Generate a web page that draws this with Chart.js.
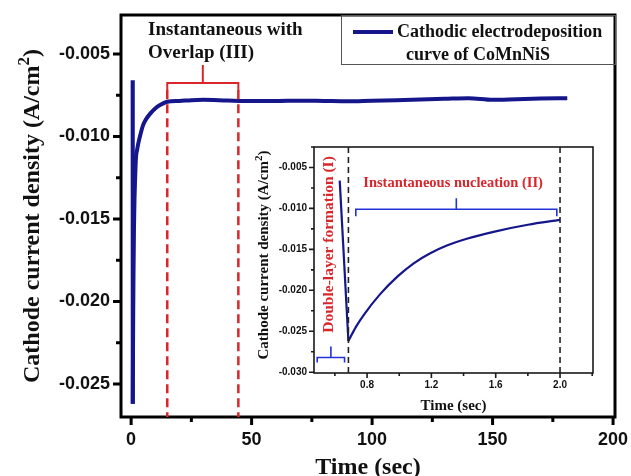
<!DOCTYPE html>
<html lang="en">
<head>
<meta charset="UTF-8" />
<title>Cathodic electrodeposition of CoMnNiS</title>
<script src="https://cdn.jsdelivr.net/npm/chart.js"></script>
<style>
  html, body { margin: 0; padding: 0; background: #fff; }
  .wrap { position: relative; width: 631px; height: 476px; overflow: hidden; }
  #mainChart { position: absolute; left: 0; top: 0; }
  #insetChart { position: absolute; left: 250px; top: 140px; }
</style>
</head>
<body>
<div class="wrap">
  <canvas id="mainChart" width="631" height="476"></canvas>
  <canvas id="insetChart" width="350" height="280"></canvas>
</div>
<script>
// whole deposition run: time (s) and current density (A/cm2)
const runTime = [0.63, 0.684, 0.78, 0.88, 0.99, 1.19, 1.42, 1.6, 2.0, 2.5, 3, 4, 5, 6, 8, 10, 12, 15, 20, 25, 30,
  40, 50, 60, 70, 80, 90, 100, 110, 120, 130, 140, 150, 160, 170, 181];
const runCurrent = [-0.0066, -0.0262, -0.0230, -0.0205, -0.0183, -0.0155, -0.0137, -0.0128, -0.0113, -0.0108,
  -0.0104, -0.0098, -0.0093, -0.0090, -0.0086, -0.0083, -0.0081, -0.0079, -0.00785, -0.0078, -0.00778,
  -0.00782, -0.00785, -0.00785, -0.00783, -0.00785, -0.00787, -0.00783, -0.0078, -0.00776,
  -0.00772, -0.00768, -0.00778, -0.00774, -0.0077, -0.00768];

// first two seconds (inset)
const earlyTime = [0.63, 0.684, 0.73, 0.78, 0.88, 0.99, 1.09, 1.19, 1.3, 1.42, 1.6, 1.8, 2.0];
const earlyCurrent = [-0.0066, -0.0262, -0.0245, -0.0230, -0.0205, -0.0183, -0.0167, -0.0155, -0.0145,
  -0.0137, -0.0128, -0.0120, -0.0114];

const runTicksX = [0, 50, 100, 150, 200];
const runTicksY = [-0.025, -0.020, -0.015, -0.010, -0.005];
const earlyTicksX = [0.8, 1.2, 1.6, 2.0];
const earlyTicksY = [-0.030, -0.025, -0.020, -0.015, -0.010, -0.005];

// stage limits
const overlapStage = [15, 44.5];
const doubleLayerStage = [0.49, 0.66];
const nucleationStage = [0.73, 1.98];
const stageMarks = [0.684, 2.0];

const navy = '#16168c';
const red = '#d9262b';
const blue = '#2233d8';
const serif = '"Liberation Serif", "Times New Roman", serif';
const sans = '"Liberation Sans", Arial, sans-serif';

function minorTicks(major, min, max) {
  const step = major[1] - major[0];
  const out = [];
  for (let v = major[0] - step / 2; v <= max + 1e-9; v += step) {
    if (v >= min - 1e-9) out.push(v);
  }
  return out;
}

// {x, y} points for a slice of a series
function points(times, values, from, to) {
  return times.slice(from, to).map((t, i) => ({ x: t, y: values[from + i] }));
}

// text made of runs, some of them superscript; centred on (x, y)
function drawRuns(ctx, runs, x, y, size, rotate, color) {
  ctx.save();
  ctx.translate(x, y);
  if (rotate) ctx.rotate(-Math.PI / 2);
  const base = `bold ${size}px ${serif}`;
  const sup = `bold ${Math.round(size * 0.72)}px ${serif}`;
  let total = 0;
  runs.forEach(([t, s]) => { ctx.font = s ? sup : base; total += ctx.measureText(t).width; });
  let cx = -total / 2;
  ctx.fillStyle = color || '#111';
  ctx.textBaseline = 'alphabetic';
  ctx.textAlign = 'left';
  runs.forEach(([t, s]) => {
    ctx.font = s ? sup : base;
    ctx.fillText(t, cx, size * 0.34 - (s ? size * 0.42 : 0));
    cx += ctx.measureText(t).width;
  });
  ctx.restore();
}

function bracket(ctx, x, y, x0, x1, yv, end, stem) {
  const p0 = x.getPixelForValue(x0), p1 = x.getPixelForValue(x1);
  const py = y.getPixelForValue(yv);
  const mid = (p0 + p1) / 2;
  ctx.beginPath();
  ctx.moveTo(p0, py + end);
  ctx.lineTo(p0, py);
  ctx.lineTo(p1, py);
  ctx.lineTo(p1, py + end);
  ctx.moveTo(mid, py);
  ctx.lineTo(mid, py - stem);
  ctx.stroke();
}

// box, outward ticks and axis titles
const axisFrame = {
  id: 'axisFrame',
  afterDraw(chart, args, o) {
    const { ctx, chartArea: a, scales: { x, y } } = chart;
    const inX = v => v >= x.min && v <= x.max;
    const inY = v => v >= y.min && v <= y.max;
    ctx.save();
    ctx.strokeStyle = o.color;
    ctx.lineWidth = o.width;
    ctx.beginPath();
    const xMinor = minorTicks(o.xMajor, x.min, x.max);
    const yMinor = minorTicks(o.yMajor, y.min, y.max);
    o.xMajor.filter(inX).forEach(v => { const p = x.getPixelForValue(v); ctx.moveTo(p, a.bottom); ctx.lineTo(p, a.bottom + o.majorLen); });
    xMinor.forEach(v => { const p = x.getPixelForValue(v); ctx.moveTo(p, a.bottom); ctx.lineTo(p, a.bottom + o.minorLen); });
    o.yMajor.filter(inY).forEach(v => { const p = y.getPixelForValue(v); ctx.moveTo(a.left, p); ctx.lineTo(a.left - o.majorLen, p); });
    yMinor.forEach(v => { const p = y.getPixelForValue(v); ctx.moveTo(a.left, p); ctx.lineTo(a.left - o.minorLen, p); });
    ctx.stroke();
    ctx.strokeRect(a.left, a.top, a.right - a.left, a.bottom - a.top);
    ctx.restore();
    drawRuns(ctx, o.xTitle, (a.left + a.right) / 2, a.bottom + o.xTitleOffset, o.titleSize, false);
    drawRuns(ctx, o.yTitle, o.yTitleX, (a.top + a.bottom) / 2 + o.yTitleShift, o.titleSize, true);
  }
};

// stage markers, labels and legend of the full run
const runNotes = {
  id: 'runNotes',
  afterDraw(chart) {
    const { ctx, chartArea: a, scales: { x, y } } = chart;
    ctx.save();
    ctx.strokeStyle = red;
    ctx.lineWidth = 2.5;
    ctx.setLineDash([9, 5]);
    const top = y.getPixelForValue(-0.0072);
    overlapStage.forEach(v => {
      const p = x.getPixelForValue(v);
      ctx.beginPath(); ctx.moveTo(p, top); ctx.lineTo(p, a.bottom); ctx.stroke();
    });
    ctx.setLineDash([]);
    ctx.lineWidth = 2;
    bracket(ctx, x, y, overlapStage[0], overlapStage[1], -0.00676, 8, 18);

    ctx.fillStyle = '#111';
    ctx.font = `bold 19px ${serif}`;
    ctx.textAlign = 'left';
    ctx.textBaseline = 'alphabetic';
    const tx = x.getPixelForValue(7), ty = y.getPixelForValue(-0.00385);
    ctx.fillText('Instantaneous with', tx, ty);
    ctx.fillText('Overlap (III)', tx, ty + 23);

    // legend box in the upper right corner
    const ds = chart.data.datasets[0];
    const lx = a.right - 274, ly = a.top, lh = 49;
    ctx.strokeStyle = '#555';
    ctx.lineWidth = 1;
    ctx.strokeRect(lx + 0.5, ly + 0.5, a.right - lx, lh);
    ctx.strokeStyle = ds.borderColor;
    ctx.lineWidth = 4;
    ctx.beginPath(); ctx.moveTo(lx + 12, ly + 17); ctx.lineTo(lx + 52, ly + 17); ctx.stroke();
    ctx.font = `bold 18px ${serif}`;
    const lines = ds.label.split('\n');
    ctx.fillText(lines[0], lx + 56, ly + 22);
    ctx.fillText(lines[1], lx + 65, ly + 45);
    ctx.restore();
  }
};

// stage markers and labels of the first two seconds
const earlyNotes = {
  id: 'earlyNotes',
  afterDraw(chart) {
    const { ctx, chartArea: a, scales: { x, y } } = chart;
    ctx.save();
    ctx.strokeStyle = '#222';
    ctx.lineWidth = 1.6;
    ctx.setLineDash([6, 4]);
    stageMarks.forEach(v => {
      const p = x.getPixelForValue(v);
      ctx.beginPath(); ctx.moveTo(p, a.top); ctx.lineTo(p, a.bottom); ctx.stroke();
    });
    ctx.setLineDash([]);
    ctx.strokeStyle = blue;
    ctx.lineWidth = 1.6;
    bracket(ctx, x, y, nucleationStage[0], nucleationStage[1], -0.0101, 7, 11);
    bracket(ctx, x, y, doubleLayerStage[0], doubleLayerStage[1], -0.0282, 5, 11);

    ctx.fillStyle = red;
    ctx.font = `bold 14.5px ${serif}`;
    ctx.textAlign = 'center';
    ctx.textBaseline = 'alphabetic';
    ctx.fillText('Instantaneous nucleation (II)', x.getPixelForValue(1.335), y.getPixelForValue(-0.00744));
    ctx.restore();
    drawRuns(ctx, [['Double-layer formation (I)', false]], x.getPixelForValue(0.557),
      y.getPixelForValue(-0.0144), 15.5, true, red);
  }
};

const tickFont = size => ({ family: sans, size: size, weight: 'bold' });
const setTicks = list => scale => { scale.ticks = list.map(v => ({ value: v })); };
// keep the plot box where the layout padding puts it
const fitX = h => s => { s.height = h; s.paddingLeft = 0; s.paddingRight = 0; };
const fitY = w => s => { s.width = w; s.paddingTop = 0; s.paddingBottom = 0; };

// the charging drop is straight; the rise after the minimum is smoothed
function curveSets(label, times, values, width) {
  const common = { borderColor: navy, borderWidth: width, pointRadius: 0, fill: false };
  return [
    { ...common, label: label, data: points(times, values, 1, times.length), cubicInterpolationMode: 'monotone' },
    { ...common, label: label, data: points(times, values, 0, 2), tension: 0 }
  ];
}

new Chart(document.getElementById('mainChart'), {
  type: 'line',
  data: { datasets: curveSets('Cathodic electrodeposition\ncurve of CoMnNiS', runTime, runCurrent, 4) },
  options: {
    responsive: false,
    animation: false,
    devicePixelRatio: 1,
    layout: { padding: { top: 15, right: 16, left: 0, bottom: 0 } },
    plugins: {
      legend: { display: false },
      tooltip: { enabled: false },
      axisFrame: {
        color: '#000', width: 3, majorLen: 8, minorLen: 5,
        xMajor: runTicksX, yMajor: runTicksY,
        titleSize: 24,
        xTitle: [['Time (sec)', false]], xTitleOffset: 49,
        yTitle: [['Cathode current density (A/cm', false], ['2', true], [')', false]],
        yTitleX: 31, yTitleShift: 0
      }
    },
    scales: {
      x: {
        type: 'linear', min: -4.2, max: 200.8,
        grid: { display: false, drawTicks: false },
        border: { display: false },
        afterBuildTicks: setTicks(runTicksX),
        afterFit: fitX(59),
        ticks: { padding: 12, color: '#111', font: tickFont(18), maxRotation: 0, autoSkip: false }
      },
      y: {
        type: 'linear', min: -0.0270, max: -0.00264,
        grid: { display: false, drawTicks: false },
        border: { display: false },
        afterBuildTicks: setTicks(runTicksY),
        afterFit: fitY(121),
        ticks: { padding: 11, color: '#111', font: tickFont(18), autoSkip: false, callback: v => v.toFixed(3) }
      }
    }
  },
  plugins: [axisFrame, runNotes]
});

new Chart(document.getElementById('insetChart'), {
  type: 'line',
  data: { datasets: curveSets('Cathodic electrodeposition, 0-2 s', earlyTime, earlyCurrent, 2.2) },
  options: {
    responsive: false,
    animation: false,
    devicePixelRatio: 1,
    layout: { padding: { top: 7, right: 7, left: 0, bottom: 0 } },
    plugins: {
      legend: { display: false },
      tooltip: { enabled: false },
      axisFrame: {
        color: '#1a1a1a', width: 1.6, majorLen: 5, minorLen: 3,
        xMajor: [0.4, 0.8, 1.2, 1.6, 2.0], yMajor: earlyTicksY,
        titleSize: 15,
        xTitle: [['Time (sec)', false]], xTitleOffset: 32,
        yTitle: [['Cathode current density (A/cm', false], ['2', true], [')', false]],
        yTitleX: 13, yTitleShift: -5
      }
    },
    scales: {
      x: {
        type: 'linear', min: 0.47, max: 2.205,
        grid: { display: false, drawTicks: false },
        border: { display: false },
        afterBuildTicks: setTicks(earlyTicksX),
        afterFit: fitX(47),
        ticks: { padding: 6, color: '#111', font: tickFont(10), maxRotation: 0, autoSkip: false, callback: v => v.toFixed(1) }
      },
      y: {
        type: 'linear', min: -0.0301, max: -0.0025,
        grid: { display: false, drawTicks: false },
        border: { display: false },
        afterBuildTicks: setTicks(earlyTicksY),
        afterFit: fitY(64),
        ticks: { padding: 7, color: '#111', font: tickFont(10), autoSkip: false, callback: v => v.toFixed(3) }
      }
    }
  },
  plugins: [axisFrame, earlyNotes]
});
</script>
</body>
</html>
